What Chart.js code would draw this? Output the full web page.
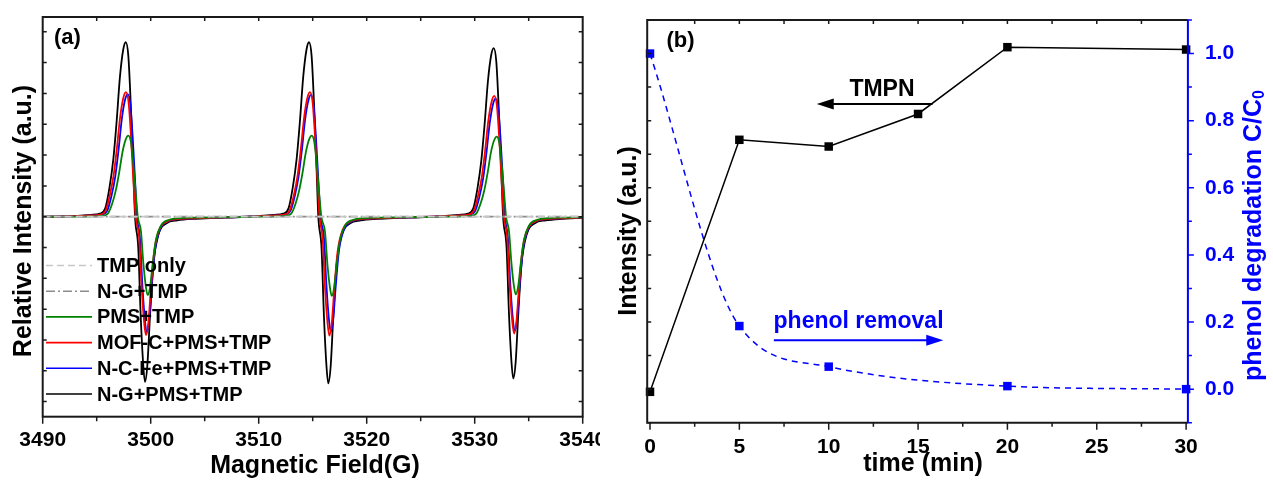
<!DOCTYPE html>
<html>
<head>
<meta charset="utf-8">
<script src="https://cdn.jsdelivr.net/npm/chart.js@4.4.1/dist/chart.umd.min.js"></script>
<style>
  body { margin: 0; background: #fff; }
  #wrap { position: relative; width: 1273px; height: 481px; }
  canvas { position: absolute; top: 0; }
</style>
</head>
<body>
<div id="wrap">
  <canvas id="epr" width="600" height="481" style="left:0"></canvas>
  <canvas id="kin" width="673" height="481" style="left:600px"></canvas>
</div>
<script>
// ---- (a) EPR spectra (field in G, intensity in a.u.) ----
const fieldTicks = [3490, 3500, 3510, 3520, 3530, 3540];

const baseField = [3490, 3540];
const tmpOnly = [0, 0];
const ngTmp = [0, 0];

const pmsField = [3490, 3493.0,
  3494.73, 3495.53, 3496.03, 3496.43, 3496.78, 3497.09, 3497.39, 3497.69, 3497.93, 3498.17, 3498.39, 3498.63, 3498.80,
  3499.10, 3499.32, 3499.56, 3499.72, 3499.94, 3500.19, 3500.49, 3500.96, 3501.72, 3502.72, 3504.22, 3506.22, 3508.22,
  3510.0, 3511.71, 3512.51, 3513.01, 3513.41, 3513.76, 3514.07, 3514.37, 3514.67, 3514.91, 3515.15, 3515.37, 3515.61, 3515.80,
  3516.14, 3516.36, 3516.60, 3516.76, 3516.98, 3517.23, 3517.53, 3518.00, 3518.76, 3519.76, 3521.26, 3523.26, 3525.26,
  3527.0, 3528.84, 3529.64, 3530.14, 3530.54, 3530.89, 3531.20, 3531.50, 3531.80, 3532.04, 3532.28, 3532.50, 3532.74, 3532.90,
  3533.18, 3533.40, 3533.64, 3533.80, 3534.02, 3534.27, 3534.57, 3535.04, 3535.80, 3536.80, 3538.30, 3540];
const pmsInt = [0, 0,
  0.01, 0.03, 0.10, 0.42, 0.87, 1.45, 2.10, 2.51, 2.63, 2.42, 1.71, 0.71, 0,
  -0.48, -1.51, -2.29, -2.54, -2.29, -1.51, -0.74, -0.28, -0.10, -0.05, -0.03, -0.02, -0.01,
  0, 0.01, 0.03, 0.10, 0.42, 0.87, 1.45, 2.10, 2.51, 2.63, 2.42, 1.71, 0.71, 0,
  -0.49, -1.53, -2.31, -2.57, -2.31, -1.53, -0.75, -0.28, -0.10, -0.05, -0.03, -0.02, -0.01,
  0, 0.01, 0.03, 0.10, 0.42, 0.86, 1.43, 2.08, 2.48, 2.60, 2.39, 1.69, 0.70, 0,
  -0.48, -1.50, -2.27, -2.52, -2.27, -1.50, -0.74, -0.28, -0.10, -0.05, -0.03, -0.02];

const mofField = [3490, 3492.0,
  3494.51, 3495.31, 3495.81, 3496.21, 3496.56, 3496.87, 3497.17, 3497.47, 3497.71, 3497.95, 3498.17, 3498.41, 3498.61,
  3498.94, 3499.16, 3499.40, 3499.56, 3499.78, 3500.03, 3500.33, 3500.80, 3501.56, 3502.56, 3504.06, 3506.06, 3508.06,
  3509.5, 3511.55, 3512.35, 3512.85, 3513.25, 3513.60, 3513.91, 3514.21, 3514.51, 3514.75, 3514.99, 3515.21, 3515.45, 3515.63,
  3515.92, 3516.14, 3516.38, 3516.54, 3516.76, 3517.01, 3517.31, 3517.78, 3518.54, 3519.54, 3521.04, 3523.04, 3525.04,
  3526.6, 3528.61, 3529.41, 3529.91, 3530.31, 3530.66, 3530.97, 3531.27, 3531.57, 3531.81, 3532.05, 3532.27, 3532.51, 3532.70,
  3533.02, 3533.24, 3533.48, 3533.64, 3533.86, 3534.11, 3534.41, 3534.88, 3535.64, 3536.64, 3538.14, 3540];
const mofInt = [0, 0.01,
  0.04, 0.07, 0.19, 0.69, 1.33, 2.22, 3.23, 3.86, 4.04, 3.72, 2.63, 1.09, 0,
  -0.73, -2.28, -3.46, -3.84, -3.46, -2.28, -1.11, -0.42, -0.15, -0.08, -0.05, -0.03, -0.01,
  0.01, 0.04, 0.07, 0.19, 0.69, 1.33, 2.22, 3.23, 3.86, 4.04, 3.72, 2.63, 1.09, 0,
  -0.73, -2.30, -3.47, -3.86, -3.47, -2.30, -1.12, -0.42, -0.15, -0.08, -0.05, -0.03, -0.01,
  0.01, 0.04, 0.07, 0.19, 0.67, 1.29, 2.16, 3.14, 3.74, 3.92, 3.61, 2.55, 1.06, 0,
  -0.72, -2.26, -3.41, -3.79, -3.41, -2.26, -1.10, -0.42, -0.15, -0.08, -0.05, -0.03];

const ncfeField = [3490, 3492.0,
  3494.67, 3495.47, 3495.97, 3496.37, 3496.72, 3497.03, 3497.33, 3497.63, 3497.87, 3498.11, 3498.33, 3498.57, 3498.73,
  3499.01, 3499.23, 3499.47, 3499.63, 3499.85, 3500.10, 3500.40, 3500.87, 3501.63, 3502.63, 3504.13, 3506.13, 3508.13,
  3509.6, 3511.64, 3512.44, 3512.94, 3513.34, 3513.69, 3514.00, 3514.30, 3514.60, 3514.84, 3515.08, 3515.30, 3515.54, 3515.72,
  3516.05, 3516.27, 3516.51, 3516.67, 3516.89, 3517.14, 3517.44, 3517.91, 3518.67, 3519.67, 3521.17, 3523.17, 3525.17,
  3526.7, 3528.74, 3529.54, 3530.04, 3530.44, 3530.79, 3531.10, 3531.40, 3531.70, 3531.94, 3532.18, 3532.40, 3532.64, 3532.80,
  3533.08, 3533.30, 3533.54, 3533.70, 3533.92, 3534.17, 3534.47, 3534.94, 3535.70, 3536.70, 3538.20, 3540];
const ncfeInt = [0, 0.01,
  0.04, 0.07, 0.19, 0.68, 1.31, 2.19, 3.18, 3.80, 3.98, 3.66, 2.59, 1.07, 0,
  -0.71, -2.23, -3.38, -3.75, -3.38, -2.23, -1.09, -0.41, -0.15, -0.08, -0.05, -0.03, -0.01,
  0.01, 0.04, 0.07, 0.19, 0.67, 1.30, 2.17, 3.16, 3.77, 3.95, 3.63, 2.57, 1.07, 0,
  -0.71, -2.22, -3.36, -3.73, -3.36, -2.22, -1.08, -0.41, -0.15, -0.08, -0.05, -0.03, -0.01,
  0.01, 0.04, 0.07, 0.18, 0.65, 1.26, 2.11, 3.06, 3.66, 3.83, 3.52, 2.49, 1.03, 0,
  -0.70, -2.21, -3.34, -3.71, -3.34, -2.21, -1.08, -0.41, -0.15, -0.08, -0.05, -0.03];

const ngField = [3490, 3492.0,
  3494.49, 3495.29, 3495.79, 3496.19, 3496.54, 3496.85, 3497.15, 3497.45, 3497.69, 3497.93, 3498.15, 3498.39, 3498.55,
  3498.85, 3499.07, 3499.31, 3499.47, 3499.69, 3499.94, 3500.24, 3500.71, 3501.47, 3502.47, 3503.97, 3505.97, 3507.97,
  3509.5, 3511.46, 3512.26, 3512.76, 3513.16, 3513.51, 3513.82, 3514.12, 3514.42, 3514.66, 3514.90, 3515.12, 3515.36, 3515.52,
  3515.82, 3516.04, 3516.28, 3516.44, 3516.66, 3516.91, 3517.21, 3517.68, 3518.44, 3519.44, 3520.94, 3522.94, 3524.94,
  3526.6, 3528.56, 3529.36, 3529.86, 3530.26, 3530.61, 3530.92, 3531.22, 3531.52, 3531.76, 3532.00, 3532.22, 3532.46, 3532.63,
  3532.95, 3533.17, 3533.41, 3533.57, 3533.79, 3534.04, 3534.34, 3534.81, 3535.57, 3536.57, 3538.07, 3540];
const ngInt = [0, 0.01,
  0.06, 0.10, 0.27, 0.96, 1.87, 3.11, 4.53, 5.41, 5.66, 5.21, 3.68, 1.53, 0,
  -1.02, -3.19, -4.82, -5.36, -4.82, -3.19, -1.55, -0.59, -0.21, -0.12, -0.07, -0.04, -0.02,
  0.01, 0.06, 0.10, 0.27, 0.96, 1.87, 3.11, 4.53, 5.41, 5.66, 5.21, 3.68, 1.53, 0,
  -1.03, -3.22, -4.87, -5.41, -4.87, -3.22, -1.57, -0.60, -0.22, -0.12, -0.07, -0.04, -0.02,
  0.01, 0.06, 0.10, 0.26, 0.93, 1.81, 3.01, 4.38, 5.23, 5.47, 5.03, 3.56, 1.48, 0,
  -1.00, -3.12, -4.73, -5.25, -4.73, -3.12, -1.52, -0.58, -0.21, -0.12, -0.07, -0.04];

// ---- (b) kinetics ----
const times = [0, 5, 10, 15, 20, 30];
const tmpnIntensity = [-0.008, 0.743, 0.723, 0.820, 1.019, 1.012];
const phenolTimes = [0, 5, 10, 20, 30];
const phenolRatio = [1.0, 0.188, 0.067, 0.009, 0.0];
const timeTicks = [0, 5, 10, 15, 20, 25, 30];
const ratioTicks = [0, 0.2, 0.4, 0.6, 0.8, 1.0];

const FONT = '"Liberation Sans", Arial, sans-serif';
const BLUE = '#0000ff';
const font = size => 'bold ' + size + 'px ' + FONT;
const pts = (xs, ys) => xs.map((x, i) => ({ x: x, y: ys[i] }));

// tick marks; len > 0 points outward, len < 0 inward
function marks(ctx, scale, values, edge, len, color) {
  const a = scale.chart.chartArea;
  ctx.save();
  ctx.strokeStyle = color || '#1a1a1a';
  ctx.lineWidth = 1.5;
  ctx.beginPath();
  values.forEach(v => {
    const p = scale.getPixelForValue(v);
    if (edge === 'bottom') { ctx.moveTo(p, a.bottom); ctx.lineTo(p, a.bottom + len); }
    if (edge === 'top') { ctx.moveTo(p, a.top); ctx.lineTo(p, a.top - len); }
    if (edge === 'left') { ctx.moveTo(a.left, p); ctx.lineTo(a.left - len, p); }
    if (edge === 'right') { ctx.moveTo(a.right, p); ctx.lineTo(a.right + len, p); }
  });
  ctx.stroke();
  ctx.restore();
}

function steps(from, to, step) {
  const out = [];
  for (let v = from; v <= to + 1e-9; v += step) out.push(+v.toFixed(4));
  return out;
}

function vText(ctx, text, x, y, size, color) {
  ctx.save();
  ctx.translate(x, y);
  ctx.rotate(-Math.PI / 2);
  ctx.font = font(size);
  ctx.fillStyle = color;
  ctx.textAlign = 'center';
  ctx.textBaseline = 'middle';
  ctx.fillText(text, 0, 0);
  ctx.restore();
}

function hText(ctx, text, x, y, size, color, align) {
  ctx.save();
  ctx.font = font(size);
  ctx.fillStyle = color;
  ctx.textAlign = align || 'center';
  ctx.textBaseline = 'middle';
  ctx.fillText(text, x, y);
  ctx.restore();
}

function arrow(ctx, x0, x1, y, color) {
  const dir = Math.sign(x1 - x0);
  ctx.save();
  ctx.strokeStyle = color; ctx.fillStyle = color; ctx.lineWidth = 2;
  ctx.beginPath(); ctx.moveTo(x0, y); ctx.lineTo(x1 - dir * 12, y); ctx.stroke();
  ctx.beginPath();
  ctx.moveTo(x1, y); ctx.lineTo(x1 - dir * 17, y - 5.5); ctx.lineTo(x1 - dir * 17, y + 5.5);
  ctx.closePath(); ctx.fill();
  ctx.restore();
}

const eprDecor = {
  id: 'eprDecor',
  afterDraw(chart) {
    const { ctx, chartArea: a, scales: { x, y } } = chart;
    ctx.save();
    ctx.strokeStyle = '#1a1a1a'; ctx.lineWidth = 2;
    ctx.strokeRect(a.left, a.top, a.right - a.left, a.bottom - a.top);
    ctx.restore();
    marks(ctx, x, steps(3490, 3540, 10), 'bottom', 7);
    marks(ctx, x, steps(3495, 3535, 10), 'bottom', 4.5);
    marks(ctx, x, steps(3495, 3535, 5), 'top', -4);
    marks(ctx, y, steps(-6, 6, 1), 'left', -4);
    marks(ctx, y, steps(-6, 6, 1), 'right', -4);

    // legend
    chart.data.datasets.forEach((ds, i) => {
      const ly = 265.5 + i * 25.7;
      ctx.save();
      ctx.strokeStyle = ds.borderColor; ctx.lineWidth = 1.6;
      ctx.setLineDash(ds.borderDash || []);
      ctx.beginPath(); ctx.moveTo(46, ly); ctx.lineTo(92, ly); ctx.stroke();
      ctx.restore();
      hText(ctx, ds.label, 97, ly + 1, 20, '#000', 'left');
    });

    hText(ctx, '(a)', 54, 37.5, 22, '#000', 'left');
    vText(ctx, 'Relative Intensity (a.u.)', 24, 221, 25, '#000');
    hText(ctx, 'Magnetic Field(G)', 315, 466, 25, '#000');
  }
};

const kinDecor = {
  id: 'kinDecor',
  afterDraw(chart) {
    const { ctx, chartArea: a, scales: { x, y, y1 } } = chart;
    ctx.save();
    ctx.lineWidth = 2;
    ctx.strokeStyle = '#1a1a1a';
    ctx.beginPath();
    ctx.moveTo(a.right, a.top); ctx.lineTo(a.left, a.top);
    ctx.lineTo(a.left, a.bottom); ctx.lineTo(a.right, a.bottom);
    ctx.stroke();
    ctx.strokeStyle = BLUE;
    ctx.beginPath(); ctx.moveTo(a.right, a.top); ctx.lineTo(a.right, a.bottom); ctx.stroke();
    ctx.restore();
    marks(ctx, x, steps(0, 30, 5), 'bottom', 7);
    marks(ctx, x, steps(2.5, 27.5, 5), 'bottom', 4);
    marks(ctx, x, steps(2.5, 27.5, 2.5), 'top', -4);
    marks(ctx, y, steps(-0.1, 1.1, 0.1), 'left', -4);
    marks(ctx, y1, steps(0, 1, 0.2), 'right', 6, BLUE);
    marks(ctx, y1, steps(-0.1, 1.1, 0.2), 'right', 4, BLUE);

    // annotations
    const tx = x.getPixelForValue(12.98), ty = y1.getPixelForValue(0.893);
    hText(ctx, 'TMPN', tx, ty, 23, '#000');
    arrow(ctx, x.getPixelForValue(15.81), x.getPixelForValue(9.33), y1.getPixelForValue(0.850), '#000');
    const px = x.getPixelForValue(11.67), py = y1.getPixelForValue(0.20);
    hText(ctx, 'phenol removal', px, py, 23, BLUE);
    arrow(ctx, x.getPixelForValue(6.93), x.getPixelForValue(16.41), y1.getPixelForValue(0.146), BLUE);

    hText(ctx, '(b)', 66.5, 41, 22, '#000', 'left');
    vText(ctx, 'Intensity (a.u.)', 29, 231, 25, '#000');
    hText(ctx, 'time (min)', 323, 464, 25, '#000');

    // right title with subscript
    ctx.save();
    ctx.translate(654, 235.5);
    ctx.rotate(-Math.PI / 2);
    ctx.fillStyle = BLUE;
    ctx.textBaseline = 'middle';
    const main = 'phenol degradation C/C';
    ctx.font = font(25);
    const w1 = ctx.measureText(main).width;
    ctx.font = font(16);
    const w2 = ctx.measureText('0').width;
    let sx = -(w1 + w2) / 2;
    ctx.font = font(25);
    ctx.fillText(main, sx, 0);
    ctx.font = font(16);
    ctx.fillText('0', sx + w1, 6);
    ctx.restore();
  }
};

const noGrid = { display: false, drawTicks: false };
const noBorder = { display: false };

new Chart(document.getElementById('epr'), {
  type: 'line',
  data: {
    datasets: [
      { label: 'TMP only', data: pts(baseField, tmpOnly), borderColor: '#c8c8c8', borderDash: [7, 4] },
      { label: 'N-G+TMP', data: pts(baseField, ngTmp), borderColor: '#8c8c8c', borderDash: [9, 3, 2, 3] },
      { label: 'PMS+TMP', data: pts(pmsField, pmsInt), borderColor: '#008000' },
      { label: 'MOF-C+PMS+TMP', data: pts(mofField, mofInt), borderColor: '#ff0000' },
      { label: 'N-C-Fe+PMS+TMP', data: pts(ncfeField, ncfeInt), borderColor: '#0000ff' },
      { label: 'N-G+PMS+TMP', data: pts(ngField, ngInt), borderColor: '#000000' }
    ]
  },
  options: {
    responsive: false,
    animation: false,
    layout: { padding: { left: 0, top: 17, right: 17.3, bottom: 0 } },
    elements: {
      line: { borderWidth: 1.8, cubicInterpolationMode: 'monotone' },
      point: { radius: 0 }
    },
    plugins: { legend: { display: false }, tooltip: { enabled: false } },
    scales: {
      x: {
        type: 'linear', min: 3490, max: 3540,
        grid: noGrid, border: noBorder,
        afterBuildTicks: s => { s.ticks = fieldTicks.map(v => ({ value: v })); },
        afterFit: s => { s.height = 64.3; s.paddingLeft = 0; s.paddingRight = 0; },
        ticks: { font: { family: FONT, size: 21, weight: 'bold' }, color: '#000', padding: 11, maxRotation: 0, callback: v => String(v) }
      },
      y: {
        min: -6.49, max: 6.48,
        grid: noGrid, border: noBorder,
        ticks: { display: false },
        afterFit: s => { s.width = 42.7; s.paddingTop = 0; s.paddingBottom = 0; }
      }
    }
  },
  plugins: [eprDecor]
});

new Chart(document.getElementById('kin'), {
  type: 'line',
  data: {
    datasets: [
      {
        label: 'TMPN', data: pts(times, tmpnIntensity), yAxisID: 'y',
        borderColor: '#000', borderWidth: 1.5, clip: false,
        pointStyle: 'rect', pointRadius: 6, pointBackgroundColor: '#000', pointBorderWidth: 0
      },
      {
        label: 'phenol removal', data: pts(phenolTimes, phenolRatio), yAxisID: 'y1',
        borderColor: BLUE, borderWidth: 1.5, borderDash: [6, 5], clip: false,
        cubicInterpolationMode: 'monotone',
        pointStyle: 'rect', pointRadius: 6, pointBackgroundColor: BLUE, pointBorderWidth: 0
      }
    ]
  },
  options: {
    responsive: false,
    animation: false,
    layout: { padding: { left: 0, top: 20, right: 0, bottom: 0 } },
    plugins: { legend: { display: false }, tooltip: { enabled: false } },
    scales: {
      x: {
        type: 'linear', min: -0.157, max: 30.1,
        grid: noGrid, border: noBorder,
        afterBuildTicks: s => { s.ticks = timeTicks.map(v => ({ value: v })); },
        afterFit: s => { s.height = 58.3; s.paddingLeft = 0; s.paddingRight = 0; },
        ticks: { font: { family: FONT, size: 21, weight: 'bold' }, color: '#000', padding: 12, maxRotation: 0 }
      },
      y: {
        position: 'left', min: -0.1, max: 1.1,
        grid: noGrid, border: noBorder,
        ticks: { display: false },
        afterFit: s => { s.width = 47.2; s.paddingTop = 0; s.paddingBottom = 0; }
      },
      y1: {
        position: 'right', min: -0.1, max: 1.1,
        grid: noGrid, border: noBorder,
        afterBuildTicks: s => { s.ticks = ratioTicks.map(v => ({ value: v })); },
        afterFit: s => { s.width = 85.1; s.paddingTop = 0; s.paddingBottom = 0; },
        ticks: { font: { family: FONT, size: 21, weight: 'bold' }, color: BLUE, padding: 17, callback: v => v.toFixed(1) }
      }
    }
  },
  plugins: [kinDecor]
});
</script>
</body>
</html>
